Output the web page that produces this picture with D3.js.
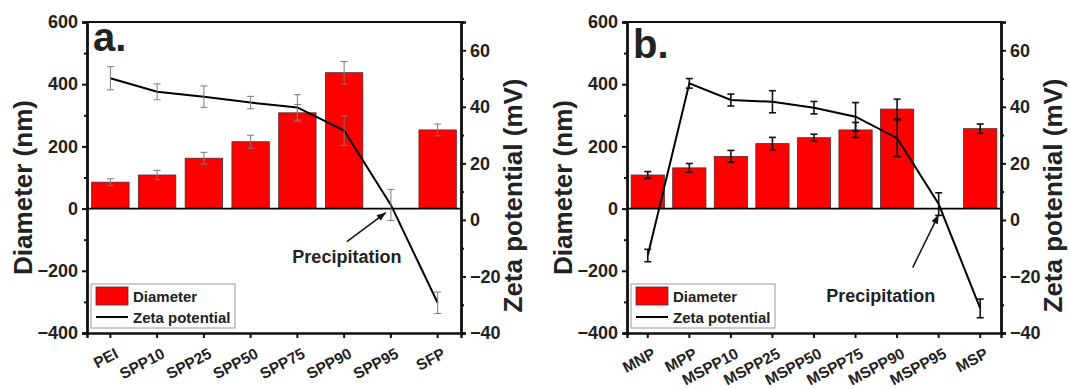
<!DOCTYPE html>
<html>
<head>
<meta charset="utf-8">
<script src="https://cdn.jsdelivr.net/npm/d3@7"></script>
<style>
  body { margin: 0; background: #fff; }
  svg { display: block; font-family: "Liberation Sans", Arial, sans-serif; font-weight: bold; }
</style>
</head>
<body>
<div id="chart"></div>
<script>
// panel a
const catsA = ["PEI", "SPP10", "SPP25", "SPP50", "SPP75", "SPP90", "SPP95", "SFP"];
const diamA = [85, 108, 162, 215, 308, 437, null, 253];
const diamErrA = [11, 15, 19, 21, 27, 36, null, 19];
const zetaA = [50.1, 45.3, 43.6, 41.5, 39.8, 31.6, 5.3, -29.3];
const zetaErrA = [4.1, 2.8, 3.8, 2.2, 4.5, 5.2, 5.5, 3.8];

// panel b
const catsB = ["MNP", "MPP", "MSPP10", "MSPP25", "MSPP50", "MSPP75", "MSPP90", "MSPP95", "MSP"];
const diamB = [108, 131, 168, 209, 228, 253, 320, null, 257];
const diamErrB = [11, 14, 19, 20, 11, 24, 32, null, 15];
const zetaB = [-12.6, 48.3, 42.4, 41.8, 39.7, 36.5, 28.9, 5.6, -31.3];
const zetaErrB = [2.2, 1.7, 2.1, 3.9, 2.2, 5.0, 6.5, 4.0, 3.3];

// axes
const leftTicks = [-400, -200, 0, 200, 400, 600];
const leftMinor = [-300, -100, 100, 300, 500];
const rightTicks = [-40, -20, 0, 20, 40, 60];
const rightMinor = [-30, -10, 10, 30, 50];

const W = 1070, H = 389;
const svg = d3.select("#chart").append("svg").attr("width", W).attr("height", H);

function drawPanel(opt) {
  const top = 22, bottom = 333;
  const x = d3.scaleBand().domain(opt.cats).range([opt.left, opt.right]).paddingInner(0.2).paddingOuter(0.1);
  const xc = d => x(d) + x.bandwidth() / 2;
  const yL = d3.scaleLinear().domain([-400, 600]).range([bottom, top]);
  const yR = d3.scaleLinear().domain([-40, 70]).range([bottom, top]);
  const g = svg.append("g");

  const diam = opt.cats.map((c, i) => ({c: c, v: opt.diam[i], e: opt.diamErr[i]})).filter(d => d.v != null);
  const zeta = opt.cats.map((c, i) => ({c: c, v: opt.zeta[i], e: opt.zetaErr[i]}));

  // bars
  g.selectAll("rect.bar").data(diam).enter().append("rect")
    .attr("class", "bar")
    .attr("x", d => x(d.c))
    .attr("y", d => yL(d.v))
    .attr("width", x.bandwidth())
    .attr("height", d => yL(0) - yL(d.v))
    .attr("fill", "#ff0000")
    .attr("stroke", "#5a2a2a")
    .attr("stroke-width", 0.8);

  // zero line
  g.append("line")
    .attr("x1", opt.left).attr("x2", opt.right)
    .attr("y1", yL(0)).attr("y2", yL(0))
    .attr("stroke", "#000").attr("stroke-width", 1.8);

  function errBars(data, y, color, sw) {
    const eg = g.append("g").attr("stroke", color).attr("stroke-width", sw);
    data.forEach(d => {
      const cx = xc(d.c);
      eg.append("line").attr("x1", cx).attr("x2", cx).attr("y1", y(d.v - d.e)).attr("y2", y(d.v + d.e));
      eg.append("line").attr("x1", cx - 3.5).attr("x2", cx + 3.5).attr("y1", y(d.v - d.e)).attr("y2", y(d.v - d.e));
      eg.append("line").attr("x1", cx - 3.5).attr("x2", cx + 3.5).attr("y1", y(d.v + d.e)).attr("y2", y(d.v + d.e));
    });
  }
  errBars(diam, yL, opt.errColor, opt.errWidth);

  // zeta line
  g.append("path")
    .datum(zeta)
    .attr("fill", "none")
    .attr("stroke", "#000")
    .attr("stroke-width", 2)
    .attr("d", d3.line().x(d => xc(d.c)).y(d => yR(d.v)));
  errBars(zeta, yR, opt.errColor, opt.errWidth);

  // axes
  g.append("g").attr("transform", `translate(${opt.left},0)`)
    .call(d3.axisLeft(yL).tickValues(leftTicks).tickSize(5).tickPadding(4));
  g.append("g").attr("transform", `translate(${opt.left},0)`)
    .call(d3.axisLeft(yL).tickValues(leftMinor).tickSize(3).tickFormat(""));
  g.append("g").attr("transform", `translate(${opt.right},0)`)
    .call(d3.axisRight(yR).tickValues(rightTicks).tickSize(5).tickPadding(4));
  g.append("g").attr("transform", `translate(${opt.right},0)`)
    .call(d3.axisRight(yR).tickValues(rightMinor).tickSize(3).tickFormat(""));
  g.append("g").attr("transform", `translate(0,${bottom})`)
    .call(d3.axisBottom(x).tickSize(5).tickFormat(""));
  g.append("line").attr("x1", opt.left).attr("x2", opt.right).attr("y1", top).attr("y2", top)
    .attr("stroke", "#111").attr("stroke-width", 2.2);

  g.selectAll(".domain").attr("stroke", "#111").attr("stroke-width", 2.4);
  g.selectAll(".tick line").attr("stroke", "#111").attr("stroke-width", 2);
  g.selectAll(".tick text").attr("font-size", 18).attr("font-weight", "bold").attr("fill", "#222")
    .attr("font-family", "'Liberation Sans', Arial, sans-serif");

  // rotated category labels
  g.selectAll("text.cat").data(opt.cats).enter().append("text")
    .attr("class", "cat")
    .attr("transform", d => `translate(${xc(d) + 3},${bottom + 13}) rotate(-28)`)
    .attr("text-anchor", "end")
    .attr("dy", "0.8em")
    .attr("font-size", 15.5)
    .attr("fill", "#222")
    .text(d => d);

  // axis titles
  g.append("text")
    .attr("transform", `translate(${opt.left - 55},${(top + bottom) / 2 + 10}) rotate(-90)`)
    .attr("text-anchor", "middle")
    .attr("font-size", 26)
    .attr("fill", "#222")
    .text("Diameter (nm)");
  g.append("text")
    .attr("transform", `translate(${opt.right + 61},${(top + bottom) / 2 + 18}) rotate(-90)`)
    .attr("text-anchor", "middle")
    .attr("font-size", 26)
    .attr("fill", "#222")
    .text("Zeta potential (mV)");

  // panel letter
  g.append("text")
    .attr("x", opt.left + 6).attr("y", opt.letterY)
    .attr("font-size", 40)
    .attr("fill", "#222")
    .text(opt.letter);

  // legend
  const lg = g.append("g").attr("transform", `translate(${opt.left + 4},284)`);
  lg.append("rect").attr("width", 144).attr("height", 44)
    .attr("fill", "#fff").attr("stroke", "#999").attr("stroke-width", 1);
  lg.append("rect").attr("x", 5).attr("y", 3).attr("width", 32).attr("height", 18)
    .attr("fill", "#ff0000").attr("stroke", "#5a2a2a").attr("stroke-width", 0.8);
  lg.append("text").attr("x", 42).attr("y", 18).attr("font-size", 15).attr("fill", "#222").text("Diameter");
  lg.append("line").attr("x1", 5).attr("x2", 37).attr("y1", 33).attr("y2", 33)
    .attr("stroke", "#000").attr("stroke-width", 2);
  lg.append("text").attr("x", 42).attr("y", 39).attr("font-size", 15).attr("fill", "#222").text("Zeta potential");

  // precipitation annotation
  const a = opt.note;
  const tipX = xc(a.cat) + a.tip[0], tipY = yL(0) + a.tip[1];
  const tailX = tipX + a.tail[0], tailY = tipY + a.tail[1];
  g.append("line").attr("x1", tailX).attr("y1", tailY).attr("x2", tipX).attr("y2", tipY)
    .attr("stroke", "#111").attr("stroke-width", 1.5);
  const ang = Math.atan2(tipY - tailY, tipX - tailX);
  const hl = 9, hw = 3.5;
  const bx = tipX - hl * Math.cos(ang), by = tipY - hl * Math.sin(ang);
  g.append("path")
    .attr("d", `M${tipX},${tipY} L${bx - hw * Math.sin(ang)},${by + hw * Math.cos(ang)} L${bx + hw * Math.sin(ang)},${by - hw * Math.cos(ang)} Z`)
    .attr("fill", "#111");
  g.append("text")
    .attr("x", tipX + a.text[0]).attr("y", tipY + a.text[1])
    .attr("text-anchor", "middle")
    .attr("font-size", 18)
    .attr("fill", "#222")
    .text("Precipitation");
}

drawPanel({
  cats: catsA, diam: diamA, diamErr: diamErrA, zeta: zetaA, zetaErr: zetaErrA,
  left: 87, right: 461, letter: "a.", letterY: 51,
  errColor: "#7a7a7a", errWidth: 1,
  note: {cat: "SPP95", tip: [-5, 4], tail: [-39, 29], text: [-39, 50]}
});

drawPanel({
  cats: catsB, diam: diamB, diamErr: diamErrB, zeta: zetaB, zetaErr: zetaErrB,
  left: 627, right: 1001, letter: "b.", letterY: 58,
  errColor: "#111", errWidth: 1.6,
  note: {cat: "MSPP95", tip: [0, 6], tail: [-26, 53], text: [-58, 87]}
});
</script>
</body>
</html>
